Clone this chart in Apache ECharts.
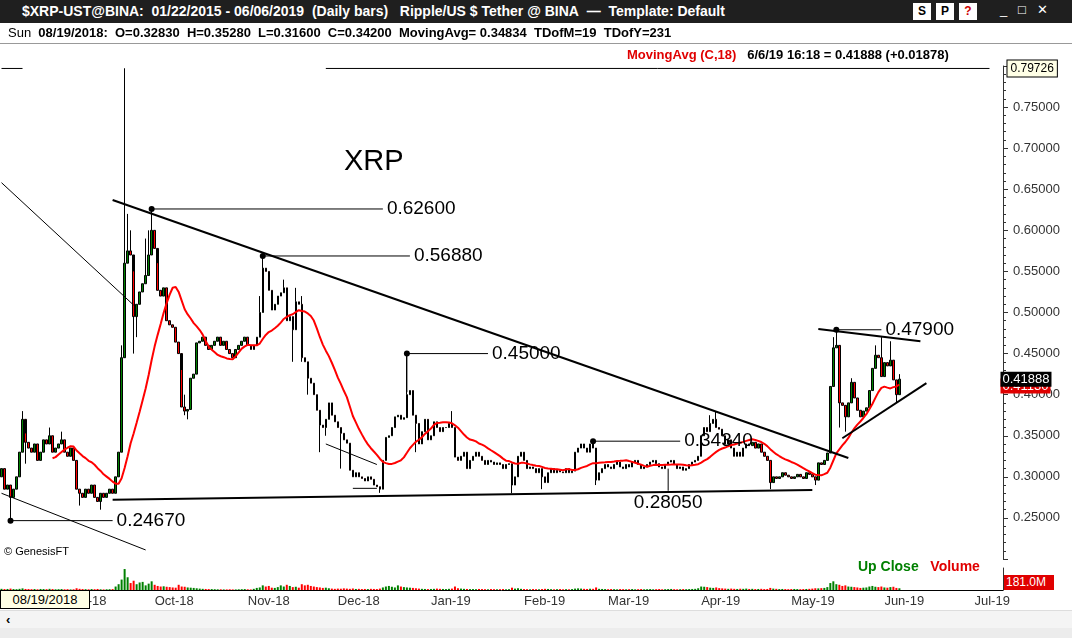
<!DOCTYPE html>
<html>
<head>
<meta charset="utf-8">
<script src="https://cdn.jsdelivr.net/npm/echarts@6/dist/echarts.min.js"></script>
<style>
body{margin:0;width:1072px;height:638px;overflow:hidden;font-family:Arial,"Liberation Sans",sans-serif;background:#fff}
#chart{position:absolute;left:0;top:0;width:1072px;height:638px}
.ov{position:absolute;white-space:nowrap}
</style>
</head>
<body>
<div id="chart"></div>
<div class="ov" style="left:0;top:0;width:1072px;height:23px;background:#1f1f1f;color:#fff;font-weight:bold;font-size:14px;line-height:23px;padding-left:22px;box-sizing:border-box">$XRP-UST@BINA:&nbsp; 01/22/2015 - 06/06/2019&nbsp; (Daily bars)&nbsp;&nbsp; Ripple/US $ Tether @ BINA&nbsp; &mdash;&nbsp; Template: Default</div>
<div class="ov" style="left:913px;top:3px;width:18px;height:17px;background:#fff;color:#000;font-size:12px;font-weight:bold;text-align:center;line-height:17px">S</div>
<div class="ov" style="left:936px;top:3px;width:18px;height:17px;background:#fff;color:#000;font-size:12px;font-weight:bold;text-align:center;line-height:17px">P</div>
<div class="ov" style="left:959px;top:3px;width:18px;height:17px;background:#fff;color:#c00;font-size:12px;font-weight:bold;text-align:center;line-height:17px">?</div>
<div class="ov" style="left:1000px;top:2px;color:#fff;font-size:13px">_&nbsp;&nbsp;&nbsp;&#9633;&nbsp;&nbsp;&nbsp;&#10005;</div>
<div class="ov" style="left:0;top:23px;width:1072px;height:21px;border-bottom:1px solid #999;box-sizing:border-box;font-size:13px;line-height:20px;padding-left:8px;color:#000">Sun&nbsp; <b>08/19/2018:&nbsp; O=0.32830&nbsp; H=0.35280&nbsp; L=0.31600&nbsp; C=0.34200&nbsp; MovingAvg= 0.34834&nbsp; TDofM=19&nbsp; TDofY=231</b></div>
<div class="ov" style="left:627px;top:47px;font-size:13px;font-weight:bold"><span style="color:#e00000">MovingAvg (C,18)</span>&nbsp;&nbsp; <span>6/6/19 16:18 = 0.41888 (+0.01878)</span></div>
<div class="ov" style="left:344px;top:144px;font-size:29px;color:#000">XRP</div>
<div class="ov" style="left:4px;top:545px;font-size:11px;color:#000">&copy; GenesisFT</div>
<div class="ov" style="left:858px;top:558px;font-size:14px;font-weight:bold"><span style="color:#008000">Up Close</span>&nbsp;&nbsp; <span style="color:#e00000">Volume</span></div>
<div class="ov" style="left:1004px;top:575px;width:48px;height:15px;background:#e00000;color:#fff;font-size:12px;line-height:15px;padding-left:2px">181.0M</div>
<div class="ov" style="left:0;top:590px;width:90px;height:19px;background:#ffffe6;border:1px solid #000;box-sizing:border-box;font-size:13px;line-height:17px;text-align:center">08/19/2018</div>
<div class="ov" style="left:0;top:610px;width:1072px;height:18px;background:#f4f4f4;border-top:1px solid #ddd;font-size:13px;font-weight:bold;line-height:18px;padding-left:6px">&lsaquo;</div>
<div class="ov" style="left:0;top:628px;width:1072px;height:10px;background:#ececec"></div>
<script>
// daily closes from 2018-08-11 to 2019-06-06
var closes = [
  0.31,0.285,0.29,0.275,0.285,0.30,0.33,0.37,0.342,0.335,
  0.33,0.34,0.32,0.33,0.345,0.34,0.35,0.33,0.335,0.34,0.345,0.33,0.325,0.335,0.32,
  0.285,0.28,0.275,0.285,0.28,0.29,0.275,0.27,0.28,0.275,0.28,0.285,0.28,
  0.30,0.33,0.445,0.56,0.575,0.57,0.495,0.51,0.525,0.535,0.545,0.57,0.60,0.578,0.527,0.52,0.53,0.49,0.485,0.482,0.464,0.45,
  0.385,0.38,0.382,0.42,0.425,0.463,
  0.465,0.47,0.46,0.455,0.46,0.465,0.47,0.46,0.465,0.455,0.45,0.445,0.455,0.46,0.465,0.47,0.46,0.455,0.46,0.47,0.50,
  0.554,0.55,0.527,0.503,0.51,0.52,0.524,0.53,0.49,0.495,0.479,0.513,0.51,
  0.445,0.44,0.42,0.414,0.40,0.381,0.363,0.36,0.37,0.39,0.375,0.367,0.36,0.353,0.345,0.341,0.308,0.30,0.305,0.30,0.298,0.295,0.30,0.297,0.29,0.288,0.285,
  0.32,0.348,0.35,0.36,0.373,0.375,0.37,0.372,0.40,0.405,0.375,0.365,0.34,0.355,0.37,0.345,0.35,0.367,0.36,0.355,0.36,0.36,0.365,0.36,
  0.324,0.32,0.325,0.33,0.31,0.32,0.325,0.33,0.325,0.32,0.315,0.32,0.318,0.315,0.317,0.315,
  0.31,0.315,0.316,0.29,0.30,0.325,0.33,0.32,0.31,0.312,0.31,0.305,0.31,0.30,0.293,0.305,0.31,0.305,0.308,0.306,0.305,0.31,0.305,0.307,
  0.33,0.335,0.34,0.335,0.33,0.34,0.335,
  0.296,
  0.305,0.31,0.315,0.312,0.31,0.315,0.318,0.312,0.31,0.315,0.312,0.318,0.32,0.315,0.31,0.312,0.315,0.318,0.32,0.316,0.312,0.31,0.315,0.318,0.32,0.315,0.31,0.312,0.308,0.31,0.315,0.318,0.32,
  0.325,0.35,0.36,0.355,
  0.365,0.37,0.36,0.358,
  0.35,0.34,0.345,0.335,0.325,0.33,0.325,0.335,0.34,0.338,0.342,0.335,0.34,0.33,0.325,0.32,
  0.293,0.30,0.298,0.30,0.305,0.302,0.30,0.298,0.30,0.303,0.30,0.298,0.305,0.303,0.30,
  0.296,0.317,0.315,0.32,0.329,0.41,0.457,0.46,0.39,0.387,0.373,0.39,0.415,0.396,0.381,0.373,0.38,0.384,0.405,0.432,0.448,0.445,0.422,0.439,0.435,0.442,0.418,0.40,0.41888
];
var firstOpen = 0.30;
// visible wicks (day index -> price)
var highs = {7:0.38,8:0.3528,16:0.36,20:0.355,40:0.46,41:0.79726,42:0.62,43:0.60,44:0.55,48:0.59,49:0.60,50:0.626,52:0.56,60:0.43,61:0.40,86:0.52,87:0.5688,94:0.54,98:0.53,100:0.52,135:0.45,150:0.38,197:0.3434,236:0.375,238:0.38,277:0.47,278:0.479,283:0.42,291:0.46,293:0.47,296:0.465,299:0.425};
var lows = {3:0.2467,8:0.316,26:0.265,33:0.26,44:0.45,45:0.47,61:0.375,62:0.37,97:0.44,100:0.44,102:0.40,106:0.33,108:0.35,113:0.31,126:0.2805,138:0.33,170:0.28,180:0.285,198:0.29,256:0.285,271:0.29,279:0.36,281:0.355,298:0.39};
// volume in millions
var volumes = [
  10,8,9,12,8,7,10,14,9,8,7,8,6,9,8,7,10,8,6,7,8,6,7,5,6,15,10,8,7,6,8,7,9,6,5,6,7,8,
  30,50,90,181,110,60,80,50,65,70,40,55,75,45,35,30,32,28,25,22,20,45,30,28,22,20,18,15,
  12,10,9,8,8,7,6,6,5,5,6,5,5,6,7,8,6,5,10,18,22,40,30,35,20,18,25,40,30,45,35,25,28,20,
  50,40,45,35,30,25,22,18,20,15,12,10,12,11,14,12,10,13,9,10,8,9,8,10,9,8,12,22,30,35,28,22,40,30,25,22,20,18,15,12,10,9,8,9,10,12,10,9,8,10,12,
  30,15,12,10,9,8,8,7,9,8,7,6,8,7,6,7,8,6,7,20,
  12,15,10,8,7,6,8,7,6,8,10,9,7,6,7,8,6,7,6,8,12,14,12,10,9,11,10,22,
  10,9,8,7,8,7,6,8,7,6,7,8,6,7,8,6,7,8,6,7,8,6,7,8,9,7,6,7,8,7,8,9,10,
  15,30,28,25,20,18,22,16,14,12,10,12,10,9,11,10,12,9,10,8,9,10,8,9,
  18,12,10,8,9,8,7,8,9,8,7,8,9,10,12,
  15,14,16,18,25,60,75,50,45,35,40,30,28,25,22,18,20,22,30,35,28,25,30,22,20,25,28,18,15
];
var maPeriod = 18;
var totalDays = 334;
var monthNames = ['Jan','Feb','Mar','Apr','May','Jun','Jul','Aug','Sep','Oct','Nov','Dec'];

var dates = [];
var d0 = new Date(Date.UTC(2018, 7, 11));
for (var i = 0; i < totalDays; i++) {
  var d = new Date(d0.getTime() + i * 86400000);
  dates.push(d.toISOString().slice(0, 10));
}

var candles = [], volData = [], ma = [];
for (var i = 0; i < closes.length; i++) {
  var o = i === 0 ? firstOpen : closes[i - 1];
  var c = closes[i];
  var hi = highs[i] !== undefined ? highs[i] : Math.max(o, c);
  var lo = lows[i] !== undefined ? lows[i] : Math.min(o, c);
  candles.push([o, c, lo, hi]);
  volData.push({value: volumes[i], itemStyle: {color: c >= o ? '#008000' : '#ff0000'}});
  if (i >= maPeriod - 1) {
    var s = 0;
    for (var k = i - maPeriod + 1; k <= i; k++) s += closes[k];
    ma.push(+(s / maPeriod).toFixed(5));
  } else {
    ma.push('-');
  }
}

function seg(pts, width, extra) {
  var s = {
    type: 'line', silent: true, animation: false, z: 5,
    symbol: 'circle', symbolSize: 0, showSymbol: true, showAllSymbol: true,
    itemStyle: {color: '#000'},
    lineStyle: {color: '#000', width: width},
    data: pts.map(function (p) {
      var it = {value: [dates[p[0]], p[1]]};
      if (p[2]) Object.assign(it, p[2]);
      return it;
    })
  };
  if (extra) Object.assign(s, extra);
  return s;
}
var big = {show: true, position: 'right', fontSize: 19, color: '#000', distance: 4};
function lbl(t) { return {label: Object.assign({}, big, {formatter: t})}; }
var dot = {symbolSize: 6};

var series = [
  {
    type: 'candlestick', data: candles, barWidth: 2, animation: false, z: 3,
    itemStyle: {color: '#008000', color0: '#ff0000', borderColor: '#000', borderColor0: '#000', borderWidth: 1}
  },
  {type: 'line', data: ma, symbol: 'none', animation: false, z: 4, lineStyle: {color: '#ff0000', width: 2}},
  {type: 'bar', xAxisIndex: 1, yAxisIndex: 1, data: volData, barWidth: 2, animation: false},
  // trendlines
  seg([[37, 0.637], [282, 0.323]], 2),
  seg([[0, 0.658], [44, 0.509]], 1),
  seg([[37, 0.272], [270, 0.284]], 2),
  seg([[0, 0.28], [48, 0.211]], 1),
  seg([[108, 0.34], [125, 0.315]], 1),
  seg([[117, 0.286], [125, 0.286]], 1),
  seg([[272, 0.48], [306, 0.465]], 2),
  seg([[280, 0.347], [308, 0.414]], 2),
  seg([[0, 0.797], [7, 0.797]], 1),
  seg([[108, 0.797], [329, 0.797, {label: {show: true, position: 'right', distance: 18, formatter: '0.79726', fontSize: 12, color: '#000', backgroundColor: '#ffffe6', borderColor: '#000', borderWidth: 1, padding: [2, 3]}}]], 1),
  // annotations
  seg([[50, 0.626, dot], [127, 0.626, lbl('0.62600')]], 1),
  seg([[87, 0.5688, dot], [136, 0.5688, lbl('0.56880')]], 1),
  seg([[135, 0.403], [135, 0.45, dot], [162, 0.45, lbl('0.45000')]], 1),
  seg([[197, 0.3434, dot], [226, 0.3434, lbl('0.34340')]], 1),
  seg([[278, 0.479, dot], [293, 0.479, lbl('0.47900')]], 1),
  seg([[3, 0.2467, dot], [37, 0.2467, lbl('0.24670')]], 1),
  seg([[222, 0.31], [222, 0.283, {label: {show: true, position: 'bottom', distance: 2, fontSize: 19, color: '#000', formatter: '0.28050'}}]], 1),
  // last price / MA tags on axis
  seg([[299, 0.4105], [330, 0.4105, {label: {show: true, position: 'right', distance: 8, formatter: '0.41130', fontSize: 13, color: '#fff', backgroundColor: '#e00000', padding: [1, 2]}}]], 0, {lineStyle: {opacity: 0}}),
  seg([[299, 0.41888], [330, 0.41888, {label: {show: true, position: 'right', distance: 8, formatter: '0.41888', fontSize: 13, color: '#fff', backgroundColor: '#000', padding: [1, 2]}}]], 0, {lineStyle: {opacity: 0}})
];

var chart = echarts.init(document.getElementById('chart'));
chart.setOption({
  backgroundColor: '#fff',
  animation: false,
  textStyle: {fontFamily: 'Arial, Liberation Sans, sans-serif'},
  grid: [
    {left: 0, right: 69, top: 66, height: 493},
    {left: 0, right: 69, top: 568, height: 22}
  ],
  xAxis: [
    {type: 'category', data: dates, gridIndex: 0, boundaryGap: true, axisLine: {show: false}, axisTick: {show: false}, axisLabel: {show: false}, splitLine: {show: false}},
    {
      type: 'category', data: dates, gridIndex: 1, boundaryGap: true,
      axisLine: {lineStyle: {color: '#000'}}, axisTick: {show: false},
      axisLabel: {
        interval: function (idx, val) { return val.slice(8) === '01'; },
        formatter: function (val) { return monthNames[+val.slice(5, 7) - 1] + '-' + val.slice(2, 4); },
        align: 'left', color: '#333', fontSize: 13, margin: 5
      }
    }
  ],
  yAxis: [
    {
      type: 'value', gridIndex: 0, position: 'right', min: 0.2, max: 0.8, interval: 0.05,
      axisLine: {show: true, lineStyle: {color: '#333'}},
      axisTick: {show: true, length: 5, lineStyle: {color: '#333'}},
      minorTick: {show: true, splitNumber: 5, length: 3, lineStyle: {color: '#333'}},
      axisLabel: {color: '#333', fontSize: 13, margin: 10, formatter: function (v) { return (v > 0.21 && v < 0.79) ? v.toFixed(5) : ''; }},
      splitLine: {show: false}
    },
    {type: 'value', gridIndex: 1, position: 'right', min: 0, max: 190, axisLine: {show: true, lineStyle: {color: '#333'}}, axisTick: {show: false}, axisLabel: {show: false}, splitLine: {show: false}}
  ],
  series: series
});
</script>
</body>
</html>
